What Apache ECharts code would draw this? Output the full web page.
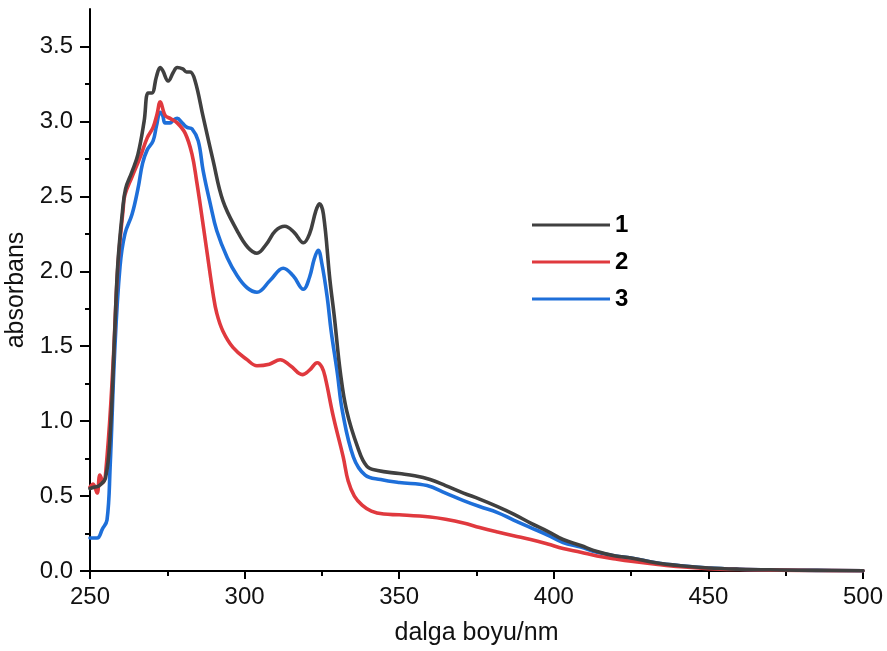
<!DOCTYPE html>
<html>
<head>
<meta charset="utf-8">
<script src="https://cdn.jsdelivr.net/npm/echarts@6/dist/echarts.min.js"></script>
<style>
html,body{margin:0;padding:0;background:#fff;}
#chart{width:887px;height:651px;}
</style>
</head>
<body>
<div id="chart"></div>
<script>
// ---- data (wavelength in nm, absorbance) ----
const seriesNames = ['1', '2', '3'];

const wl1 = [250,251.5,253,255,256.5,258,259,260.5,261.5,263.5,265.5,267.5,268.8,270,271.5,272.7,273.5,275.3,277,278.2,280,281.2,282.4,284,286.6,289.8,293,297.6,301,304,307,310,313,316,319,321,323,324.2,325.5,327.6,329,331,333,336.5,339.5,343,350,355,360,365,370.8,376,381.8,387,392.5,398,403,408.7,414,420,425,433,441,450,460,473,485,500];
const abs1 = [0.55,0.56,0.57,0.62,0.9,1.6,2.05,2.4,2.55,2.66,2.78,3.0,3.19,3.19,3.3,3.36,3.34,3.27,3.33,3.36,3.35,3.33,3.33,3.27,3.03,2.74,2.47,2.27,2.16,2.12,2.18,2.27,2.30,2.26,2.19,2.25,2.40,2.45,2.38,1.94,1.7,1.32,1.07,0.83,0.70,0.67,0.65,0.635,0.61,0.57,0.52,0.48,0.43,0.38,0.32,0.265,0.21,0.17,0.13,0.10,0.087,0.055,0.035,0.02,0.012,0.007,0.004,0.002];

const wl2 = [250,251,252.3,253.2,254.2,255.5,257.4,259,260.7,261.3,263.6,266.2,268.5,270.4,271.7,272.7,274.3,275.9,278.2,280.8,283,284.5,285.6,287.9,289.8,291,293,296.3,300.8,304,308,311.5,314.8,318.7,321,323.5,325,326.1,328.7,331.9,333.5,335.5,338,341,345,350,360,365,370.8,376,381.8,387,392.5,398,403,408.7,414,420,425,433,441,450,460,473,485,500];
const abs2 = [0.56,0.58,0.52,0.64,0.59,0.76,1.36,2.03,2.41,2.51,2.63,2.76,2.89,2.96,3.05,3.13,3.04,3.02,2.99,2.92,2.78,2.6,2.45,2.12,1.85,1.72,1.6,1.49,1.41,1.37,1.38,1.41,1.37,1.31,1.34,1.39,1.36,1.29,1.03,0.76,0.6,0.5,0.44,0.40,0.38,0.375,0.36,0.345,0.32,0.29,0.26,0.235,0.21,0.18,0.15,0.125,0.10,0.08,0.065,0.045,0.028,0.016,0.01,0.006,0.003,0.002];

const wl3 = [250,252.3,254,255.5,256.5,258,259.7,261.3,263.6,265.5,267,268.5,270.4,271.5,272.7,273.5,274.3,275.9,277,278.2,279.8,281.4,283,285,286.6,288.9,291,294.4,297.6,300.8,304,308.3,312.5,315.7,319,321,322.5,323.8,325,326.7,328,330,331.6,335.2,339,344,350,359,365,370.8,376,381.8,387,392.5,398,403,408.7,414,420,425,433,441,450,460,473,485,500];
const abs3 = [0.22,0.22,0.28,0.34,0.69,1.47,2.03,2.25,2.38,2.55,2.72,2.81,2.87,2.97,3.06,3.04,2.99,2.99,3.01,3.02,2.99,2.96,2.95,2.87,2.67,2.45,2.27,2.09,1.97,1.89,1.86,1.94,2.02,1.97,1.88,1.96,2.08,2.14,2.05,1.83,1.6,1.32,1.07,0.76,0.64,0.61,0.59,0.57,0.52,0.47,0.43,0.39,0.34,0.29,0.24,0.19,0.16,0.125,0.10,0.087,0.055,0.035,0.02,0.012,0.007,0.004,0.002];

const colors = ['#404040', '#e0393e', '#1e6fd9'];

const yMajorTicks = [0, 0.5, 1.0, 1.5, 2.0, 2.5, 3.0, 3.5];
const yMinorTicks = [0.25, 0.75, 1.25, 1.75, 2.25, 2.75, 3.25];

// ---- build ----
function pairs(xs, ys) { return xs.map((x, i) => [x, ys[i]]); }
const allWl = [wl1, wl2, wl3];
const allAbs = [abs1, abs2, abs3];

const FONT = 'Liberation Sans, Arial, sans-serif';
const chart = echarts.init(document.getElementById('chart'), null, {renderer: 'canvas'});

const option = {
  backgroundColor: '#ffffff',
  animation: false,
  grid: {left: 90, right: 24, top: 9, bottom: 80, containLabel: false, outerBoundsMode: 'none'},
  legend: {
    orient: 'vertical',
    left: 527,
    top: 208,
    itemWidth: 78,
    itemHeight: 14,
    itemGap: 13,
    icon: 'path://M0,6 L78,6 L78,9 L0,9 Z',
    textStyle: {fontFamily: FONT, fontSize: 24, fontWeight: 'bold', color: '#000'},
    data: seriesNames
  },
  xAxis: {
    type: 'value',
    min: 250, max: 500, interval: 50,
    name: 'dalga boyu/nm',
    nameLocation: 'middle',
    nameGap: 50,
    nameTextStyle: {fontFamily: FONT, fontSize: 25, color: '#111'},
    axisLine: {show: true, onZero: false, lineStyle: {color: '#000', width: 2}},
    axisTick: {show: true, inside: false, length: 8, lineStyle: {color: '#000', width: 2}},
    minorTick: {show: true, splitNumber: 2, length: 5, lineStyle: {color: '#000', width: 2}},
    axisLabel: {fontFamily: FONT, fontSize: 24, color: '#111', margin: 14},
    splitLine: {show: false}
  },
  yAxis: [{
    type: 'value',
    min: 0, max: 3.75,
    name: 'absorbans',
    nameLocation: 'middle',
    nameGap: 59,
    nameTextStyle: {fontFamily: FONT, fontSize: 25, color: '#111'},
    axisLine: {show: true, onZero: false, lineStyle: {color: '#000', width: 2}},
    axisTick: {show: true, inside: false, length: 10, customValues: yMajorTicks, lineStyle: {color: '#000', width: 2}},
    axisLabel: {fontFamily: FONT, fontSize: 24, color: '#111', margin: 17, customValues: yMajorTicks,
      formatter: v => v.toFixed(1)},
    splitLine: {show: false}
  }, {
    type: 'value',
    position: 'left',
    min: 0, max: 3.75,
    axisLine: {show: false},
    axisTick: {show: true, inside: false, length: 5, customValues: yMinorTicks, lineStyle: {color: '#000', width: 2}},
    axisLabel: {show: false},
    splitLine: {show: false}
  }],
  series: seriesNames.map((n, i) => ({
    name: n,
    type: 'line',
    yAxisIndex: 0,
    data: pairs(allWl[i], allAbs[i]),
    showSymbol: false,
    symbol: 'none',
    smooth: 0.4,
    z: 3 - i,
    lineStyle: {color: colors[i], width: 3.6, join: 'round', cap: 'round'},
    itemStyle: {color: colors[i]}
  }))
};
chart.setOption(option);
</script>
</body>
</html>
